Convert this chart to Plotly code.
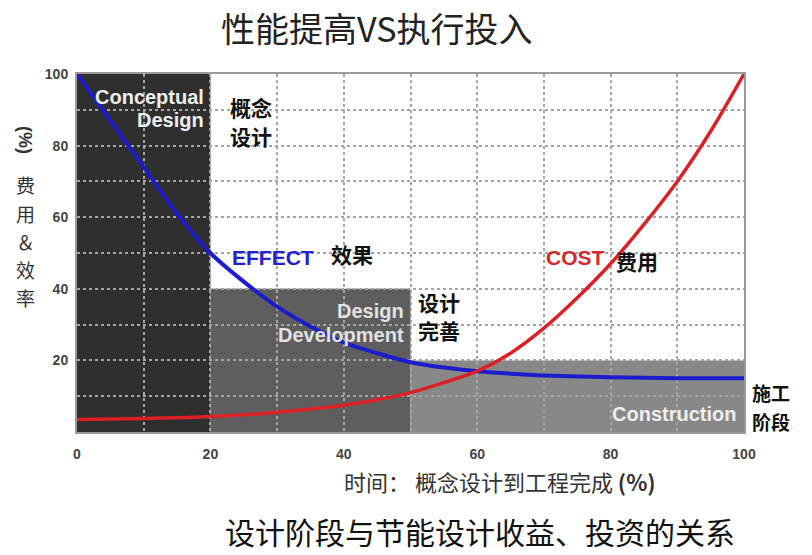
import plotly.graph_objects as go

# Project timeline (% of the way from concept to completion)
effect_x = [0, 5, 10, 15, 20, 25, 30, 35, 40, 45, 50, 55, 60, 65, 70, 80, 90, 100]
effect_y = [100, 87, 74, 61, 50, 42, 35, 29.5, 25, 22, 19.5, 18, 17, 16.3, 15.8, 15.3, 15, 15]

cost_x = [0, 5, 10, 15, 20, 25, 30, 35, 40, 45, 50, 55, 60, 65, 70, 75, 80, 85, 90, 95, 100]
cost_y = [3.5, 3.6, 3.8, 4.0, 4.3, 4.8, 5.5, 6.4, 7.5, 9, 11, 13.8, 17, 22, 29, 37.5, 47, 58, 70, 84, 100]

# Project phases: start, end and height of each shaded band
phase_start = [0, 20, 50]
phase_end = [20, 50, 100]
phase_top = [100, 40, 20]
phase_colors = ["#2f2f2f", "#5e5e5e", "#888888"]

x_ticks = [0, 20, 40, 60, 80, 100]
y_ticks = [20, 40, 60, 80, 100]
grid_minor = [10, 30, 50, 70, 90]

# Plot area in pixels (812 x 555 page)
L, R, T, B = 77, 744, 74, 432
W, H = 812, 555


def px(x):
    return (x - L) / (R - L)


def py(y):
    return (B - y) / (B - T)


fig = go.Figure()

fig.add_trace(go.Scatter(
    x=effect_x, y=effect_y, mode="lines",
    line=dict(color="#1c1ccc", width=4, shape="spline", smoothing=0.8),
    hoverinfo="skip", showlegend=False,
))
fig.add_trace(go.Scatter(
    x=cost_x, y=cost_y, mode="lines",
    line=dict(color="#dd2027", width=3.5, shape="spline", smoothing=0.8),
    hoverinfo="skip", showlegend=False,
))

for x0, x1, top, col in zip(phase_start, phase_end, phase_top, phase_colors):
    fig.add_shape(type="rect", xref="x", yref="y", x0=x0, x1=x1, y0=0, y1=top,
                  fillcolor=col, line_width=0, layer="below")

cjk = "Noto Sans CJK SC"
sans = "Liberation Sans, Arial, sans-serif"

ann = []


def label(x, y, text, family, size, color, xanchor="left", angle=0):
    # x, y given in page pixels
    ann.append(dict(x=px(x), y=py(y), xref="paper", yref="paper",
                    xanchor=xanchor, yanchor="middle", text=text, textangle=angle,
                    font=dict(family=family, size=size, color=color), showarrow=False,
                    borderpad=0))


# Phase labels inside the plot
label(205, 97, "<b>Conceptual</b>", sans, 20, "#eeeeee", "right")
label(205, 120, "<b>Design</b>", sans, 20, "#eeeeee", "right")
label(229, 107, "<b>概念</b>", cjk, 21, "#111111")
label(229, 136, "<b>设计</b>", cjk, 21, "#111111")
label(231, 257, "<b>EFFECT</b>", sans, 21, "#2222cc")
label(330, 254, "<b>效果</b>", cjk, 21, "#111111")
label(405, 311, "<b>Design</b>", sans, 20, "#e2e2e2", "right")
label(405, 335, "<b>Development</b>", sans, 20, "#e2e2e2", "right")
label(417, 302, "<b>设计</b>", cjk, 21, "#111111")
label(417, 330, "<b>完善</b>", cjk, 21, "#111111")
label(545, 257, "<b>COST</b>", sans, 21, "#d42a2a")
label(615, 261, "<b>费用</b>", cjk, 21, "#111111")
label(737, 414, "<b>Construction</b>", sans, 20, "#eeeeee", "right")

# Labels outside the plot
label(751, 392, "<b>施工</b>", cjk, 19, "#111111")
label(751, 421, "<b>阶段</b>", cjk, 19, "#111111")
label(376, 28, "性能提高VS执行投入", cjk, 34, "#222222", "center")
label(500, 481, "时间： 概念设计到工程完成 <b>(%)</b>", cjk, 22, "#333333", "center")
label(480, 531, "设计阶段与节能设计收益、投资的关系", cjk, 30, "#111111", "center")
label(25, 140, "<b>(%)</b>", sans, 18, "#333333", "center", angle=90)

# Vertical y-axis title, one character per line
y_title_chars = ["费", "用", "＆", "效", "率"]
y_title_pos = [184, 213, 241, 269, 297]
for ch, yy in zip(y_title_chars, y_title_pos):
    label(25, yy, ch, cjk, 19, "#333333", "center")

grid_style = dict(showgrid=True, gridcolor="#a5a5a5", griddash="dot", gridwidth=2)
axis_common = dict(
    showline=True, linecolor="#9a9a9a", linewidth=2, mirror=True,
    zeroline=False, ticks="",
    tickfont=dict(family=sans, size=14, color="#444444", weight="bold"),
    **grid_style,
)

fig.update_layout(
    width=W, height=H,
    margin=dict(l=L, r=W - R, t=T, b=H - B),
    paper_bgcolor="white", plot_bgcolor="white",
    xaxis=dict(range=[0, 100], tickmode="array", tickvals=x_ticks,
               ticklabelstandoff=8, minor=dict(tickvals=grid_minor, **grid_style),
               **axis_common),
    yaxis=dict(range=[0, 100], tickmode="array", tickvals=y_ticks,
               ticklabelstandoff=4, minor=dict(tickvals=grid_minor, **grid_style),
               **axis_common),
    annotations=ann,
)

fig.write_html("out.html")
